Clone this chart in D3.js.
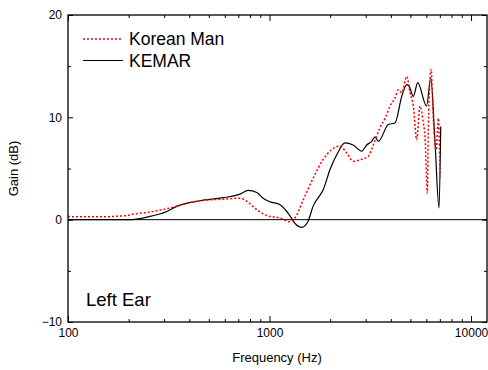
<!DOCTYPE html>
<meta charset="utf-8">
<title>Left Ear gain</title>
<body style="margin:0;background:#fff">
<svg width=488 height=370></svg>
<script src="https://d3js.org/d3.v7.min.js"></script>
<script>
    // ---- data ----
    const kemarFreq = [100, 203, 246, 309, 346, 452, 590, 714, 783, 864, 930, 1006, 1128, 1235, 1366, 1445, 1558, 1644, 1781, 1844, 1996, 2156, 2370, 2597, 2868, 3037, 3215, 3338, 3467, 3887, 4197, 4530, 4797, 4941, 5172, 5439, 6015, 6310, 6627, 6937, 7073];
    const kemarGain = [0, 0, 0.25, 0.8, 1.3, 1.85, 2.15, 2.5, 2.86, 2.65, 2.1, 1.75, 1.45, 0.65, -0.55, -0.75, -0.1, 1.3, 2.4, 2.9, 4.9, 6.35, 7.5, 7.3, 6.7, 7.3, 7.65, 8.1, 7.65, 9.3, 9.45, 12.05, 13.2, 13.0, 12.05, 13.4, 11.1, 13.85, 7.5, 1.15, 9.1];

    const koreanFreq = [100, 144, 196, 211, 246, 309, 452, 590, 714, 770, 864, 968, 1128, 1264, 1338, 1471, 1650, 1849, 2035, 2238, 2416, 2605, 2868, 3093, 3274, 3535, 3744, 3963, 4197, 4358, 4530, 4797, 4981, 5172, 5377, 5584, 5799, 5911, 6069, 6139, 6332, 6501, 6705, 6883, 7018];
    const koreanGain = [0.3, 0.28, 0.4, 0.55, 0.7, 1.07, 1.85, 2.0, 2.1, 1.8, 0.98, 0.4, 0.16, -0.2, 0.17, 1.95, 4.1, 5.9, 6.85, 7.2, 6.5, 5.7, 5.9, 6.2, 7.3, 9.0, 9.9, 11.1, 11.9, 12.7, 12.4, 14.0, 12.4, 11.1, 7.8, 11.1, 9.45, 8.1, 2.6, 9.1, 14.7, 9.8, 6.8, 9.9, 4.2];

    const xMajor = [100, 1000, 10000];
    const xMinor = [200, 300, 400, 500, 600, 700, 800, 900, 2000, 3000, 4000, 5000, 6000, 7000, 8000, 9000];
    const yMajor = [-10, 0, 10, 20];
    const yMinor = [-5, 5, 15];

    const svg = d3.select('svg');
    const m = {left: 68, right: 487, top: 15, bottom: 322};
    const font = "Arial, 'Liberation Sans', sans-serif";

    const x = d3.scaleLog().domain([100, 12000]).range([m.left, m.right]);
    const y = d3.scaleLinear().domain([-10, 20]).range([m.bottom, m.top]);

    // zero line
    svg.append('line')
        .attr('x1', m.left).attr('x2', m.right)
        .attr('y1', y(0)).attr('y2', y(0))
        .attr('stroke', '#000').attr('stroke-width', 1);

    const line = d3.line()
        .x(d => x(d[0]))
        .y(d => y(d[1]))
        .curve(d3.curveMonotoneX);

    svg.append('path')
        .datum(d3.zip(kemarFreq, kemarGain))
        .attr('d', line)
        .attr('fill', 'none')
        .attr('stroke', '#000')
        .attr('stroke-width', 1.2);

    svg.append('path')
        .datum(d3.zip(koreanFreq, koreanGain))
        .attr('d', line)
        .attr('fill', 'none')
        .attr('stroke', '#ff0000')
        .attr('stroke-width', 1.5)
        .attr('stroke-dasharray', '2,2');

    // axes, ticks pointing inward
    const styleAxis = g => {
        g.select('.domain').remove();
        g.selectAll('text').attr('font-family', font).attr('font-size', 12).attr('fill', '#000');
        g.selectAll('line').attr('stroke', '#000');
    };

    svg.append('g').attr('transform', `translate(0,${m.bottom})`)
        .call(d3.axisBottom(x).tickValues(xMajor).tickFormat(d3.format('d')).tickSize(-6).tickPadding(6))
        .call(styleAxis);
    svg.append('g').attr('transform', `translate(0,${m.bottom})`)
        .call(d3.axisBottom(x).tickValues(xMinor).tickFormat('').tickSize(-3))
        .call(styleAxis);
    svg.append('g').attr('transform', `translate(0,${m.top})`)
        .call(d3.axisTop(x).tickValues(xMajor).tickFormat('').tickSize(-6))
        .call(styleAxis);
    svg.append('g').attr('transform', `translate(0,${m.top})`)
        .call(d3.axisTop(x).tickValues(xMinor).tickFormat('').tickSize(-3))
        .call(styleAxis);

    svg.append('g').attr('transform', `translate(${m.left},0)`)
        .call(d3.axisLeft(y).tickValues(yMajor).tickSize(-5).tickPadding(6))
        .call(styleAxis);
    svg.append('g').attr('transform', `translate(${m.left},0)`)
        .call(d3.axisLeft(y).tickValues(yMinor).tickFormat('').tickSize(-3))
        .call(styleAxis);
    svg.append('g').attr('transform', `translate(${m.right},0)`)
        .call(d3.axisRight(y).tickValues(yMajor).tickFormat('').tickSize(-5))
        .call(styleAxis);
    svg.append('g').attr('transform', `translate(${m.right},0)`)
        .call(d3.axisRight(y).tickValues(yMinor).tickFormat('').tickSize(-3))
        .call(styleAxis);

    // frame
    svg.append('rect')
        .attr('x', m.left).attr('y', m.top)
        .attr('width', m.right - m.left).attr('height', m.bottom - m.top)
        .attr('fill', 'none').attr('stroke', '#000').attr('stroke-width', 1.3);

    // axis titles
    svg.append('text')
        .attr('x', 277).attr('y', 362)
        .attr('text-anchor', 'middle')
        .attr('font-family', font).attr('font-size', 13)
        .text('Frequency (Hz)');

    svg.append('text')
        .attr('transform', `translate(18,${(m.top + m.bottom) / 2}) rotate(-90)`)
        .attr('text-anchor', 'middle')
        .attr('font-family', font).attr('font-size', 13)
        .text('Gain (dB)');

    // legend
    const legend = [
        {name: 'Korean Man', color: '#ff0000', dash: '2,2', w: 1.5},
        {name: 'KEMAR', color: '#000', dash: null, w: 1.2}
    ];
    legend.forEach((d, i) => {
        const ly = 39 + i * 21.5;
        svg.append('line')
            .attr('x1', 83).attr('x2', 123)
            .attr('y1', ly).attr('y2', ly)
            .attr('stroke', d.color).attr('stroke-width', d.w)
            .attr('stroke-dasharray', d.dash);
        svg.append('text')
            .attr('x', 129).attr('y', ly + 6)
            .attr('font-family', font).attr('font-size', 17.5)
            .text(d.name);
    });

    svg.append('text')
        .attr('x', 86).attr('y', 306)
        .attr('font-family', font).attr('font-size', 18.5)
        .text('Left Ear');
</script>
